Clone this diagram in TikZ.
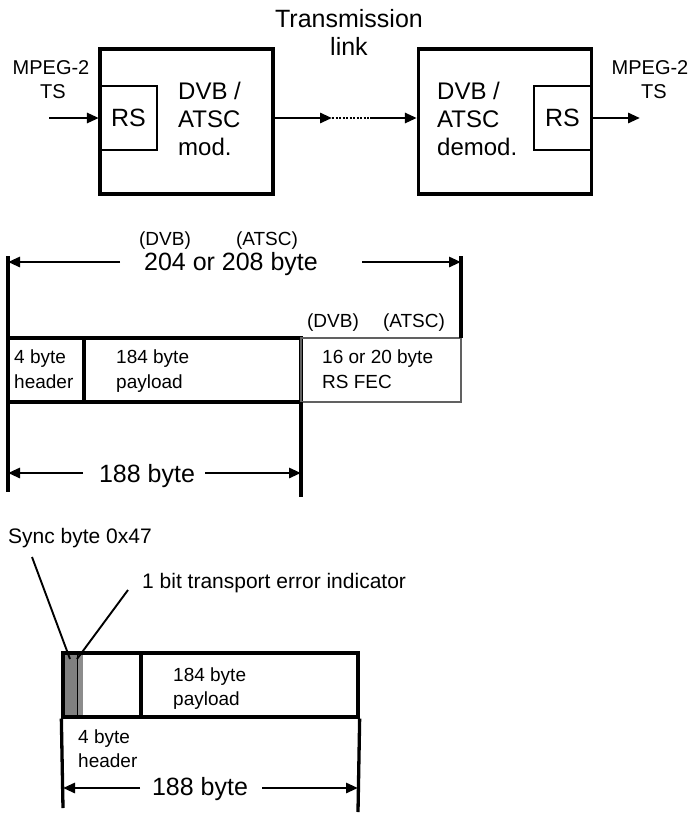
\documentclass[tikz,border=0pt]{standalone}
\usepackage{fontspec}
\setmainfont{Liberation Sans}
\usetikzlibrary{arrows.meta}
\begin{document}
\begin{tikzpicture}[x=1pt,y=-1pt,
  bigbox/.style={draw, line width=3.3pt, inner sep=0, minimum width=173pt, minimum height=145pt},
  rsbox/.style={draw, line width=2.2pt, inner sep=0, minimum width=57pt, minimum height=64pt, font=\fontsize{25}{28}\selectfont},
  fld/.style={draw, line width=3.3pt, inner sep=0, minimum height=64pt},
  arr/.style={line width=2.8pt, -{Triangle[length=12pt,width=10pt]}},
  bar/.style={line width=3.3pt},
  lead/.style={line width=1.9pt},
  big/.style={inner sep=0, anchor=base, font=\fontsize{25}{28}\selectfont},
  boxtxt/.style={inner sep=0, anchor=base west, font=\fontsize{24}{28}\selectfont},
  mid/.style={inner sep=0, anchor=base, font=\fontsize{20}{24}\selectfont},
  small/.style={inner sep=0, anchor=base west, font=\fontsize{19}{24}\selectfont},
  smallc/.style={inner sep=0, anchor=base, font=\fontsize{19}{24}\selectfont},
  note/.style={inner sep=0, anchor=base west, font=\fontsize{21}{24}\selectfont}]
\useasboundingbox (0,0) rectangle (693,814);

% ---------- top: transmission chain ----------
\node[big] (tr1) at (349,27) {Transmission};
\node[big] (tr2) at (349,55) {link};
\node[mid] (mpl1) at (51,74) {MPEG-2};
\node[mid] (mpl2) at (53,98) {TS};
\node[mid] (mpr1) at (650,74) {MPEG-2};
\node[mid] (mpr2) at (654,98) {TS};

\node[bigbox] (mod) at (186.5,121.5) {};
\node[rsbox] (rsm) at (128.5,118) {RS};
\node[boxtxt] (mt1) at (178,99) {DVB /};
\node[boxtxt] (mt2) at (178,127) {ATSC};
\node[boxtxt] (mt3) at (178,155) {mod.};

\node[bigbox] (demod) at (505,121.5) {};
\node[rsbox] (rsd) at (562.5,118) {RS};
\node[boxtxt] (dt1) at (437,99) {DVB /};
\node[boxtxt] (dt2) at (437,127) {ATSC};
\node[boxtxt] (dt3) at (437,155) {demod.};

\coordinate (in) at (49,118);
\coordinate (l1) at (332,118);
\coordinate (l2) at (370,118);
\coordinate (out) at (640,118);
\draw[arr] (in) -- (rsm.west);
\draw[arr] (rsm.west -| mod.east) -- (l1);
\draw[line width=2.2pt, dash pattern=on 2pt off 1.5pt] (l1) -- (l2);
\draw[arr] (l2) -- (rsd.west -| demod.west);
\draw[arr] (rsd.east) -- (out);

% ---------- middle: 204/208 byte packet ----------
\coordinate (vLt) at (8,256);
\coordinate (vLb) at (8,492);
\coordinate (vRt) at (461,256);
\coordinate (vRb) at (461,338);
\coordinate (vMt) at (301,402);
\coordinate (vMb) at (301,497);

\node[fld, minimum width=76pt] (hdr1) at (46,370) {};
\node[fld, minimum width=217pt] (pay1) at (192.5,370) {};
\node[fld, draw=black!62, line width=2.7pt, minimum width=160pt] (fec) at (381,370) {};

\draw[bar] (vLt) -- (vLb);
\draw[bar] (vRt) -- (vRb);
\draw[bar] (vMt) -- (vMb);

\coordinate (a1) at (120,262);
\coordinate (a2) at (362,262);
\draw[arr] (a1) -- (a1 -| vLt);
\draw[arr] (a2) -- (a2 -| vRt);
\node[big] (len1) at (231,270) {204 or 208 byte};
\node[smallc] (dvb1) at (165,245) {(DVB)};
\node[smallc] (atsc1) at (267,245) {(ATSC)};
\node[smallc] (dvb2) at (333,327) {(DVB)};
\node[smallc] (atsc2) at (414,327) {(ATSC)};

\node[small] (h1a) at (14,363) {4 byte};
\node[small] (h1b) at (14,388) {header};
\node[small] (p1a) at (116,363) {184 byte};
\node[small] (p1b) at (116,388) {payload};
\node[small] (f1a) at (322,363) {16 or 20 byte};
\node[small] (f1b) at (322,388) {RS FEC};

\coordinate (b1) at (83,473);
\coordinate (b2) at (205,473);
\draw[arr] (b1) -- (b1 -| vLt);
\draw[arr] (b2) -- (b2 -| vMt);
\node[big] (len2) at (147,482) {188 byte};

% ---------- bottom: 188 byte TS packet ----------
\node[note] (sync) at (8,543) {Sync byte 0x47};
\node[note] (tei) at (142,588) {1 bit transport error indicator};

\fill[black!50] (63,653) rectangle (77,717);
\fill[black!45] (77,653) rectangle (83,717);
\draw[line width=1pt] (77,653) -- (77,717);
\node[fld, minimum width=78pt] (hdr2) at (102,685) {};
\node[fld, minimum width=217pt] (pay2) at (249.5,685) {};

\coordinate (s1) at (32,557);
\coordinate (s2) at (70,659);
\coordinate (e1) at (128,590);
\coordinate (e2) at (77,659);
\draw[lead] (s1) -- (s2);
\draw[lead] (e1) -- (e2);

\node[small] (p2a) at (173,681) {184 byte};
\node[small] (p2b) at (173,705) {payload};
\node[small] (h2a) at (78,743) {4 byte};
\node[small] (h2b) at (78,767) {header};

\coordinate (wLb) at (63,808);
\coordinate (wRb) at (358,812);
\draw[bar] (hdr2.south west) -- (wLb);
\draw[bar] (pay2.south east) -- (wRb);
\coordinate (c1) at (140,788);
\coordinate (c2) at (262,788);
\draw[arr] (c1) -- (c1 -| wLb);
\draw[arr] (c2) -- (c2 -| wRb);
\node[big] (len3) at (200,795) {188 byte};
\end{tikzpicture}
\end{document}
